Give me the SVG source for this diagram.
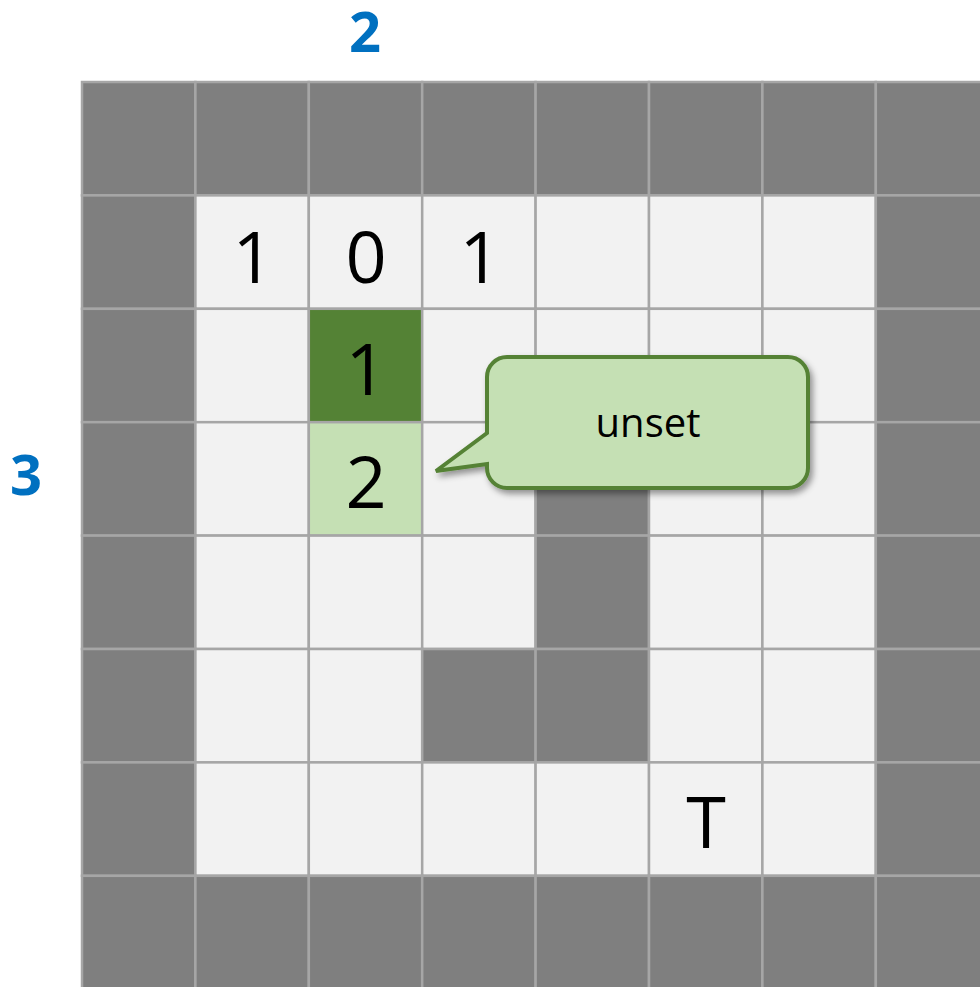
<svg xmlns="http://www.w3.org/2000/svg" width="980" height="987" viewBox="0 0 980 987">
<style>
.w{fill:#7f7f7f;stroke:#a6a6a6;stroke-width:2.5}
.f{fill:#f2f2f2;stroke:#a6a6a6;stroke-width:2.5}
.d{fill:#548235;stroke:#a6a6a6;stroke-width:2.5}
.l{fill:#c5e0b4;stroke:#a6a6a6;stroke-width:2.5}
.t{font-family:"Open Sans","Noto Sans",sans-serif;font-size:72px;fill:#000;text-anchor:middle}
.b{font-family:"Open Sans","Noto Sans",sans-serif;font-weight:bold;font-size:56px;fill:#0070c0;text-anchor:middle}
</style>
<defs>
<filter id="sh" x="-10%" y="-10%" width="130%" height="140%">
<feDropShadow dx="3" dy="4" stdDeviation="3" flood-color="#000" flood-opacity="0.4"/>
</filter>
</defs>
<rect width="980" height="987" fill="#fff"/>
<g id="grid">
<g id="row0">
<rect class="w" x="82" y="82" width="113.4" height="113.4"/><rect class="w" x="195.4" y="82" width="113.4" height="113.4"/><rect class="w" x="308.8" y="82" width="113.4" height="113.4"/><rect class="w" x="422.2" y="82" width="113.4" height="113.4"/><rect class="w" x="535.6" y="82" width="113.4" height="113.4"/><rect class="w" x="649" y="82" width="113.4" height="113.4"/><rect class="w" x="762.4" y="82" width="113.4" height="113.4"/><rect class="w" x="875.8" y="82" width="113.4" height="113.4"/>
</g>
<g id="row1">
<rect class="w" x="82" y="195.4" width="113.4" height="113.4"/><rect class="f" x="195.4" y="195.4" width="113.4" height="113.4"/><rect class="f" x="308.8" y="195.4" width="113.4" height="113.4"/><rect class="f" x="422.2" y="195.4" width="113.4" height="113.4"/><rect class="f" x="535.6" y="195.4" width="113.4" height="113.4"/><rect class="f" x="649" y="195.4" width="113.4" height="113.4"/><rect class="f" x="762.4" y="195.4" width="113.4" height="113.4"/><rect class="w" x="875.8" y="195.4" width="113.4" height="113.4"/>
</g>
<g id="row2">
<rect class="w" x="82" y="308.8" width="113.4" height="113.4"/><rect class="f" x="195.4" y="308.8" width="113.4" height="113.4"/><rect class="d" x="308.8" y="308.8" width="113.4" height="113.4"/><rect class="f" x="422.2" y="308.8" width="113.4" height="113.4"/><rect class="f" x="535.6" y="308.8" width="113.4" height="113.4"/><rect class="f" x="649" y="308.8" width="113.4" height="113.4"/><rect class="f" x="762.4" y="308.8" width="113.4" height="113.4"/><rect class="w" x="875.8" y="308.8" width="113.4" height="113.4"/>
</g>
<g id="row3">
<rect class="w" x="82" y="422.2" width="113.4" height="113.4"/><rect class="f" x="195.4" y="422.2" width="113.4" height="113.4"/><rect class="l" x="308.8" y="422.2" width="113.4" height="113.4"/><rect class="f" x="422.2" y="422.2" width="113.4" height="113.4"/><rect class="w" x="535.6" y="422.2" width="113.4" height="113.4"/><rect class="f" x="649" y="422.2" width="113.4" height="113.4"/><rect class="f" x="762.4" y="422.2" width="113.4" height="113.4"/><rect class="w" x="875.8" y="422.2" width="113.4" height="113.4"/>
</g>
<g id="row4">
<rect class="w" x="82" y="535.6" width="113.4" height="113.4"/><rect class="f" x="195.4" y="535.6" width="113.4" height="113.4"/><rect class="f" x="308.8" y="535.6" width="113.4" height="113.4"/><rect class="f" x="422.2" y="535.6" width="113.4" height="113.4"/><rect class="w" x="535.6" y="535.6" width="113.4" height="113.4"/><rect class="f" x="649" y="535.6" width="113.4" height="113.4"/><rect class="f" x="762.4" y="535.6" width="113.4" height="113.4"/><rect class="w" x="875.8" y="535.6" width="113.4" height="113.4"/>
</g>
<g id="row5">
<rect class="w" x="82" y="649" width="113.4" height="113.4"/><rect class="f" x="195.4" y="649" width="113.4" height="113.4"/><rect class="f" x="308.8" y="649" width="113.4" height="113.4"/><rect class="w" x="422.2" y="649" width="113.4" height="113.4"/><rect class="w" x="535.6" y="649" width="113.4" height="113.4"/><rect class="f" x="649" y="649" width="113.4" height="113.4"/><rect class="f" x="762.4" y="649" width="113.4" height="113.4"/><rect class="w" x="875.8" y="649" width="113.4" height="113.4"/>
</g>
<g id="row6">
<rect class="w" x="82" y="762.4" width="113.4" height="113.4"/><rect class="f" x="195.4" y="762.4" width="113.4" height="113.4"/><rect class="f" x="308.8" y="762.4" width="113.4" height="113.4"/><rect class="f" x="422.2" y="762.4" width="113.4" height="113.4"/><rect class="f" x="535.6" y="762.4" width="113.4" height="113.4"/><rect class="f" x="649" y="762.4" width="113.4" height="113.4"/><rect class="f" x="762.4" y="762.4" width="113.4" height="113.4"/><rect class="w" x="875.8" y="762.4" width="113.4" height="113.4"/>
</g>
<g id="row7">
<rect class="w" x="82" y="875.8" width="113.4" height="113.4"/><rect class="w" x="195.4" y="875.8" width="113.4" height="113.4"/><rect class="w" x="308.8" y="875.8" width="113.4" height="113.4"/><rect class="w" x="422.2" y="875.8" width="113.4" height="113.4"/><rect class="w" x="535.6" y="875.8" width="113.4" height="113.4"/><rect class="w" x="649" y="875.8" width="113.4" height="113.4"/><rect class="w" x="762.4" y="875.8" width="113.4" height="113.4"/><rect class="w" x="875.8" y="875.8" width="113.4" height="113.4"/>
</g>
</g>
<g id="labels">
<text class="t" x="253" y="283">1</text>
<text class="t" x="366" y="283">0</text>
<text class="t" x="480" y="283">1</text>
<text class="t" x="366" y="395">1</text>
<text class="t" x="366" y="508">2</text>
<text class="t" x="706" y="848">T</text>
<text class="b" x="365" y="52">2</text>
<text class="b" x="26" y="495">3</text>
</g>
<g id="connectors"></g>
<g id="callout">
<path d="M507,357 H788 A20,20 0 0 1 808,377 V468 A20,20 0 0 1 788,488 H507 A20,20 0 0 1 487,468 V464 L436,471 L487,433 V377 A20,20 0 0 1 507,357 Z" fill="#c5e0b4" stroke="#548235" stroke-width="4" stroke-linejoin="miter" filter="url(#sh)"/>
<text x="648" y="437" font-family="Open Sans, Noto Sans, sans-serif" font-size="40" text-anchor="middle" fill="#000">unset</text>
</g>
</svg>
